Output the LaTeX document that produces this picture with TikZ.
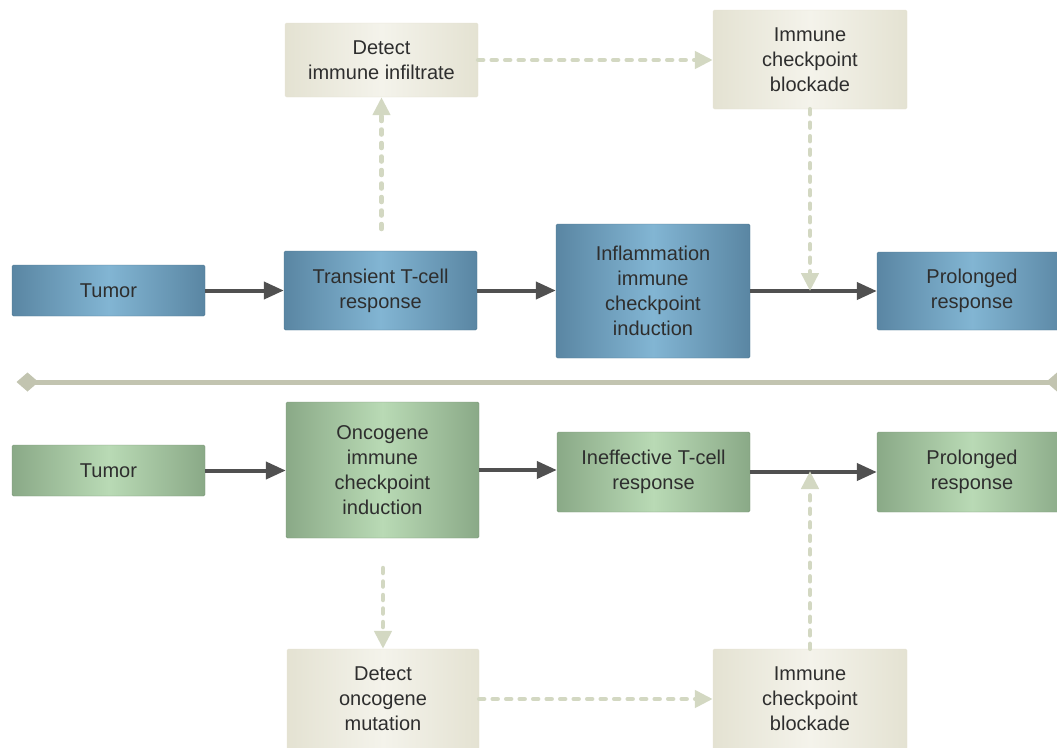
\documentclass[tikz,border=0pt]{standalone}
\usepackage{fontspec}
\setmainfont{Liberation Sans}
\usetikzlibrary{arrows.meta}
\definecolor{txt}{HTML}{2E2E2E}
\definecolor{bluedark}{HTML}{5A86A3}
\definecolor{bluelight}{HTML}{82B5D3}
\definecolor{greendark}{HTML}{8AA987}
\definecolor{greenlight}{HTML}{B9DAB5}
\definecolor{beigedark}{HTML}{E4E2D2}
\definecolor{beigelight}{HTML}{F4F3EB}
\definecolor{arrowgray}{HTML}{505050}
\definecolor{dashcol}{HTML}{D3D8C2}
\definecolor{divcol}{HTML}{C2C4B0}
\tikzset{
  boxbase/.style={rectangle, rounded corners=1.5pt, inner sep=0pt, align=center,
    text=txt, font=\fontsize{20}{25}\selectfont},
  bluebox/.style={boxbase, left color=bluedark, right color=bluedark, middle color=bluelight,
    draw=bluedark!90!black, line width=0.4pt},
  greenbox/.style={boxbase, left color=greendark, right color=greendark, middle color=greenlight,
    draw=greendark!90!black, line width=0.4pt},
  beigebox/.style={boxbase, left color=beigedark, right color=beigedark, middle color=beigelight,
    draw=beigedark, line width=0.4pt},
  flow/.style={draw=arrowgray, line width=4pt, -{Triangle[length=20pt,width=17pt]}},
  dflow/.style={draw=dashcol, line width=4.5pt, line cap=round, dash pattern=on 5pt off 8.5pt,
    -{Triangle[length=18pt,width=17pt,fill=dashcol,line cap=butt]}},
}
\begin{document}
\begin{tikzpicture}[x=1pt,y=-1pt]
\useasboundingbox (0,0) rectangle (1057,747);
% top row
\node[bluebox, minimum width=193pt, minimum height=51pt] (tumA) at (108.5,290.5) {Tumor};
\node[bluebox, minimum width=193pt, minimum height=79pt] (trans) at (380.5,290.5) {Transient T-cell\\response};
\node[bluebox, minimum width=194pt, minimum height=134pt] (infl) at (653,291) {Inflammation\\immune\\checkpoint\\induction};
\node[bluebox, minimum width=190pt, minimum height=78pt] (prolA) at (972,291) {Prolonged\\response};
\node[beigebox, minimum width=193pt, minimum height=74pt] (detA) at (381.5,60) {Detect\\immune infiltrate};
\node[beigebox, minimum width=194pt, minimum height=99pt] (icbA) at (810,59.5) {Immune\\checkpoint\\blockade};
% bottom row
\node[greenbox, minimum width=193pt, minimum height=51pt] (tumB) at (108.5,470.5) {Tumor};
\node[greenbox, minimum width=193pt, minimum height=136pt] (onco) at (382.5,470) {Oncogene\\immune\\checkpoint\\induction};
\node[greenbox, minimum width=193pt, minimum height=80pt] (ineff) at (653.5,472) {Ineffective T-cell\\response};
\node[greenbox, minimum width=190pt, minimum height=80pt] (prolB) at (972,472) {Prolonged\\response};
\node[beigebox, minimum width=192pt, minimum height=100pt] (detB) at (383,699) {Detect\\oncogene\\mutation};
\node[beigebox, minimum width=194pt, minimum height=100pt] (icbB) at (810,699) {Immune\\checkpoint\\blockade};
% helper coordinates
\coordinate (upA) at (381.5,229);
\coordinate (hitA) at (810,291);
\coordinate (downB) at (383,568);
\coordinate (hitB) at (810,471);
% solid arrows
\draw[flow] (tumA.east) -- (trans.west);
\draw[flow] (trans.east) -- (infl.west |- trans.east);
\draw[flow] (infl.east) -- (prolA.west);
\draw[flow] (tumB.east) -- (onco.west |- tumB.east);
\draw[flow] (onco.east) -- (ineff.west |- onco.east);
\draw[flow] (ineff.east) -- (prolB.west);
% dashed arrows
\draw[dflow] (upA) -- (detA.south);
\draw[dflow] (detA.east) -- (icbA.west |- detA.east);
\draw[dflow] (icbA.south) -- (hitA);
\draw[dflow] (downB) -- (detB.north);
\draw[dflow] (detB.east) -- (icbB.west |- detB.east);
\draw[dflow] (icbB.north) -- (hitB);
% divider
\coordinate (divL) at (27.5,382);
\coordinate (divR) at (1057,382);
\draw[divcol, line width=5pt] (divL) -- (divR);
\fill[divcol] (divL) ++(-11,0) -- ++(11,-9.5) -- ++(11,9.5) -- ++(-11,9.5) -- cycle;
\fill[divcol] (divR) ++(-11,0) -- ++(11,-9.5) -- ++(11,9.5) -- ++(-11,9.5) -- cycle;
\end{tikzpicture}
\end{document}
